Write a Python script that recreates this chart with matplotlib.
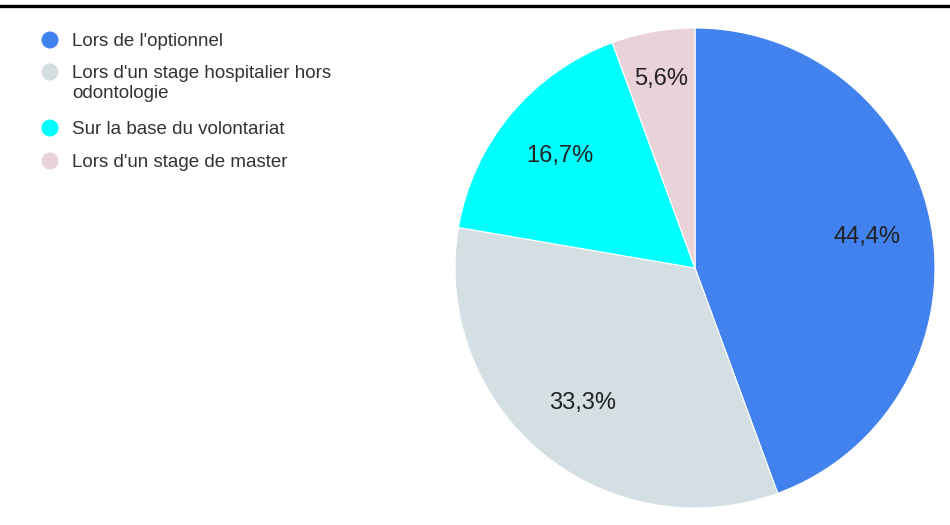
import numpy as np
import matplotlib
matplotlib.use("Agg")
import matplotlib.pyplot as plt
from matplotlib.lines import Line2D

plt.rcParams['font.family'] = ['Liberation Sans', 'DejaVu Sans']

categories = [
    "Lors de l'optionnel",
    "Lors d'un stage hospitalier hors\nodontologie",
    "Sur la base du volontariat",
    "Lors d'un stage de master",
]
shares = [44.4, 33.3, 16.7, 5.6]
colors = ["#4282EE", "#D4DFE3", "#00FFFF", "#EAD3D8"]

W, H = 950, 525
fig = plt.figure(figsize=(W / 100, H / 100), dpi=100)
fig.patch.set_facecolor("white")

# rule across the top of the figure
fig.add_artist(Line2D([0, 1], [1 - 5.5 / H, 1 - 5.5 / H], transform=fig.transFigure,
                      color="black", linewidth=2.4))

# pie: centre (695, 268) px, radius 240 px
cx, cy, r = 695, 268, 240
ax = fig.add_axes([(cx - r) / W, 1 - (cy + r) / H, 2 * r / W, 2 * r / H])
wedges, texts, autotexts = ax.pie(
    shares, colors=colors, startangle=90, counterclock=False,
    autopct=lambda p: f"{p:.1f}%".replace(".", ","), pctdistance=0.73,
    wedgeprops=dict(edgecolor="white", linewidth=0.8),
    textprops=dict(fontsize=17, color="#222222"),
)
# the narrow last slice gets its label a little further out
w = wedges[-1]
mid = np.deg2rad((w.theta1 + w.theta2) / 2)
autotexts[-1].set_position((0.80 * np.cos(mid), 0.80 * np.sin(mid)))

ax.set_xlim(-1, 1)
ax.set_ylim(-1, 1)
ax.set_aspect("equal")

# legend drawn in pixel coordinates
lax = fig.add_axes([0, 0, 1, 1])
lax.set_xlim(0, W)
lax.set_ylim(H, 0)
lax.axis("off")
rows_y = [40, 72, 128, 161]
for name, col, y in zip(categories, colors, rows_y):
    lax.scatter([50], [y], s=150, color=col, edgecolors="none")
    lax.text(72, y - 7, name, fontsize=13.5, color="#333333", va="top", ha="left",
             linespacing=1.2)

fig.savefig("out.png", dpi=100, facecolor="white")
